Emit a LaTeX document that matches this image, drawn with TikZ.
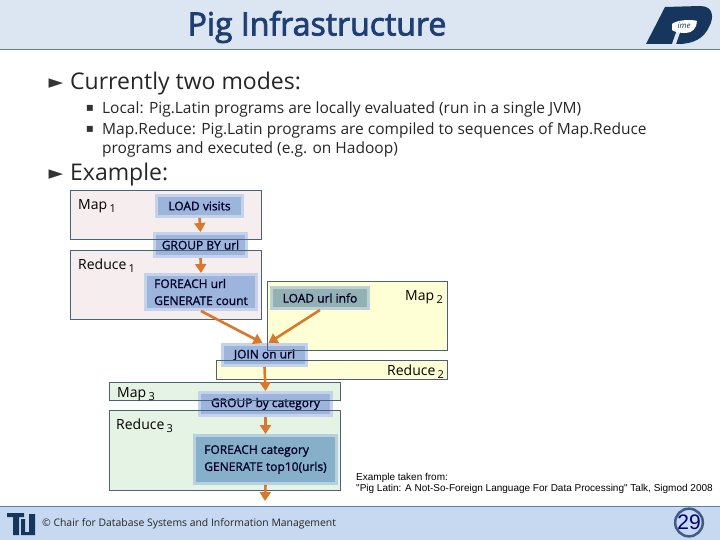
\documentclass[tikz,border=0pt]{standalone}
\usepackage{fontspec}
\setmainfont{Open Sans}
\newfontfamily\symf{DejaVu Sans}
\newfontfamily\arialf{Liberation Sans}
\newfontfamily\titlef[FakeBold=2.5]{Open Sans}
\newfontfamily\opf[FakeBold=1.2]{Open Sans}
\usetikzlibrary{arrows.meta}
\definecolor{hdr}{HTML}{DCE6F2}
\definecolor{ftr}{HTML}{C6D9F1}
\definecolor{rulec}{HTML}{5F7F9F}
\definecolor{navy}{HTML}{1F3F73}
\definecolor{logoc}{HTML}{17365D}
\definecolor{boxline}{HTML}{4A6275}
\definecolor{pinkf}{HTML}{F6EEEE}
\definecolor{yelf}{HTML}{FFFFD6}
\definecolor{greenf}{HTML}{E4F3E4}
\definecolor{arrowc}{HTML}{D9782B}
\definecolor{opb}{HTML}{9DB5DD}
\definecolor{opg}{HTML}{93B0B4}
\definecolor{opt}{HTML}{86B0C9}
\tikzset{
  x=1pt,y=-1pt,
  region/.style={draw=boxline,line width=0.8pt},
  opbox/.style={draw=#1!60!white,line width=3pt,fill=#1,inner sep=0pt,anchor=center,align=left,font=\opf\fontsize{12}{17}\selectfont,text=black!85!blue},
  flow/.style={draw=arrowc,line width=2.6pt,-{Triangle[length=9pt,width=11pt]}},
  lab/.style={inner sep=0pt,anchor=west,font=\fontsize{14}{16}\selectfont},
  bul/.style={inner sep=0pt,anchor=west,font=\fontsize{23}{26}\selectfont,text=black!85},
  subt/.style={inner sep=0pt,anchor=west,font=\fontsize{15.5}{19}\selectfont,text=black!85},
  marker/.style={inner sep=0pt,font=\symf\fontsize{12}{12}\selectfont,text=black!80},
  bigmarker/.style={inner sep=0pt,font=\symf\fontsize{19}{19}\selectfont,text=black!80},
  notet/.style={inner sep=0pt,anchor=west,font=\arialf\fontsize{10}{11}\selectfont},
}
\newcommand{\sbs}[1]{\,\raisebox{-3pt}{\fontsize{11}{11}\selectfont #1}}
\begin{document}
\begin{tikzpicture}
\useasboundingbox (0,0) rectangle (720,540);
% bands
\fill[hdr] (0,0) rectangle (720,50);
\draw[rulec,line width=1pt] (0,50) -- (720,50);
\fill[ftr] (0,506) rectangle (720,540);
\draw[rulec,line width=1pt] (0,506) -- (720,506);
% title
\node[inner sep=0pt,text=navy,font=\titlef\fontsize{32}{34}\selectfont] (title) at (317,27) {Pig Infrastructure};
% logo
\fill[logoc] (665,7) -- (700,6) .. controls (714,6) and (714,18) .. (709,27) .. controls (704,38) and (694,44) .. (678,44) -- (646,44) -- cycle;
\fill[hdr] (672,44) -- (676,44) -- (683,24) -- (679,24) -- cycle;
\fill[white] (672,24) .. controls (676,20) and (692,19) .. (697,21) .. controls (697,28) and (692,33) .. (686,33) .. controls (680,33) and (674,32) .. (672,30) -- cycle;
\node[inner sep=0pt,font=\fontsize{8}{8}\selectfont\itshape,text=logoc] (logotext) at (684,26) {ime};
% bullets
\node[bigmarker] (m1) at (56,84) {►};
\node[bul] (t1) at (70,84) {Currently two modes:};
\node[marker] (s1) at (90,108) {▪};
\node[subt] (t2) at (102,109) {Local: Pig.Latin programs are locally evaluated (run in a single JVM)};
\node[marker] (s2) at (90,129) {▪};
\node[subt] (t3) at (102,130) {Map.Reduce: Pig.Latin programs are compiled to sequences of Map.Reduce};
\node[subt] (t4) at (102,149.5) {programs and executed (e.g. on Hadoop)};
\node[bigmarker] (m2) at (56,175) {►};
\node[bul] (t5) at (70,175) {Example:};
% region fills
\fill[pinkf] (70,190.5) rectangle (261,239.5);
\fill[pinkf] (70,250) rectangle (261,319);
\fill[yelf] (267,281) rectangle (447,350);
\fill[yelf] (216,360) rectangle (447,379);
\fill[greenf] (109,382) rectangle (340,400);
\fill[greenf] (109,410) rectangle (340,490);
% operators
\node[opbox=opb,minimum width=86pt,minimum height=21pt] (visits) at (199.5,206) {LOAD visits};
\node[opbox=opb,minimum width=92pt,minimum height=23pt] (groupurl) at (200.5,245) {GROUP BY url};
\node[opbox=opb,minimum width=111pt,minimum height=35pt] (feurl) at (201,292) {FOREACH url\\GENERATE count};
\node[opbox=opg,minimum width=97pt,minimum height=21pt] (info) at (320,298) {LOAD url info};
\node[opbox=opb,minimum width=84pt,minimum height=21pt] (join) at (264.5,355) {JOIN on url};
\node[opbox=opb,minimum width=132pt,minimum height=23pt] (groupcat) at (265.5,404) {GROUP by category};
\node[opbox=opt,minimum width=142pt,minimum height=48pt] (fecat) at (265.5,459.5) {FOREACH category\\GENERATE top10(urls)};
\coordinate (out) at (265,501);
% region outlines
\draw[region] (70,190.5) rectangle (261,239.5);
\draw[region] (70,250) rectangle (261,319);
\draw[region] (267,281) rectangle (447,350);
\draw[region] (216,360) rectangle (447,379);
\draw[region] (109,382) rectangle (340,400);
\draw[region] (109,410) rectangle (340,490);
% flows
\draw[flow] (visits.south) -- (groupurl.north);
\draw[flow] (groupurl.south) -- (feurl.north);
\draw[flow] (feurl.south) -- ([xshift=-2pt]join.north);
\draw[flow] (info.south) -- ([xshift=4pt]join.north);
\draw[flow] (join.south) -- (groupcat.north);
\draw[flow] (groupcat.south) -- (fecat.north);
\draw[flow] (fecat.south) -- (out);
% labels
\node[lab] (lm1) at (78,206) {Map\sbs{1}};
\node[lab] (lr1) at (78,266) {Reduce\sbs{1}};
\node[lab] (lm2) at (405,297) {Map\sbs{2}};
\node[lab] (lr2) at (387,372) {Reduce\sbs{2}};
\node[lab] (lm3) at (117,394) {Map\sbs{3}};
\node[lab] (lr3) at (116,426) {Reduce\sbs{3}};
% source note
\node[notet] (n1) at (356,478) {Example taken from:};
\node[notet] (n2) at (356,489) {"Pig Latin: A Not-So-Foreign Language For Data Processing" Talk, Sigmod 2008};
% footer
\fill[logoc] (7,513) -- (24,513) -- (24,517) -- (19,517) -- (19,535) -- (13,535) -- (13,517) -- (7,517) -- cycle;
\fill[logoc] (21,519) -- (25,519) -- (25,532) -- (29,532) -- (29,514) -- (35,514) -- (35,535) -- (21,535) -- cycle;
\node[inner sep=0pt,anchor=west,font=\fontsize{10.4}{13}\selectfont,text=black!85] (foot) at (42,524) {© Chair for Database Systems and Information Management};
\node[circle,draw=navy!85,line width=2.5pt,fill=ftr,minimum size=27pt,inner sep=0pt,text=blue!45!black,font=\arialf\fontsize{21}{21}\selectfont] (page) at (689,522.5) {29};
\end{tikzpicture}
\end{document}
